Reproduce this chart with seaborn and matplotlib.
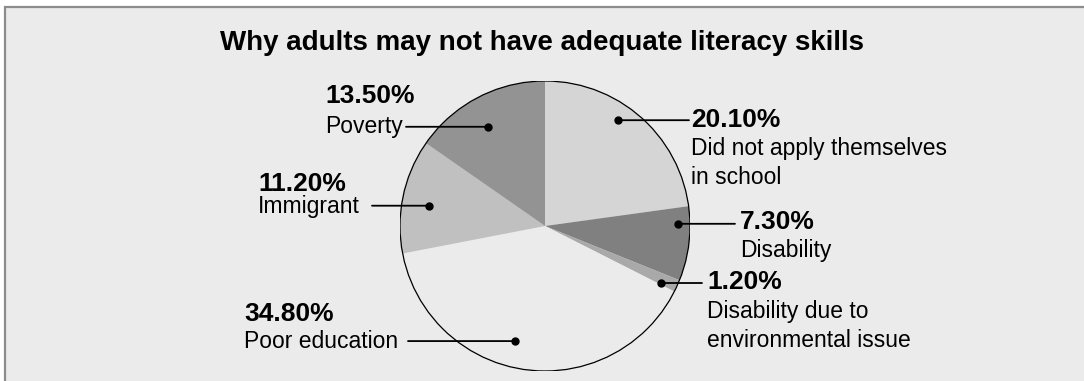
import numpy as np
import matplotlib
matplotlib.use("Agg")
import matplotlib.pyplot as plt
from matplotlib.patches import Rectangle, Circle
import seaborn as sns

# ---- data ----
categories = ["Did not apply themselves\nin school", "Disability",
              "Disability due to\nenvironmental issue", "Poor education",
              "Immigrant", "Poverty"]
values = [20.10, 7.30, 1.20, 34.80, 11.20, 13.50]
pct_labels = ["20.10%", "7.30%", "1.20%", "34.80%", "11.20%", "13.50%"]
title = "Why adults may not have adequate literacy skills"

# ---- style ----
colors = ["#d5d5d5", "#808080", "#a9a9a9", "#ebebeb", "#c0c0c0", "#939393"]
BG = "#ebebeb"

sns.set_theme(style="white")
plt.rcParams["font.family"] = ["Liberation Sans", "DejaVu Sans"]

W, H = 1084, 381
fig = plt.figure(figsize=(W / 100, H / 100), dpi=100, facecolor="white")

def fx(px):
    return px / W

def fy(py):
    return 1 - py / H

# background panel with frame (extends beyond right/bottom)
fig.patches.append(Rectangle((fx(5), fy(400)), fx(1100), (400 - 7) / H,
                             transform=fig.transFigure, facecolor=BG,
                             edgecolor="#8c8c8c", lw=1.6, zorder=-5))

# pie axes: center (545, 226), radius 145 px
cx, cy, R = 545, 226, 145
ax = fig.add_axes([fx(cx - R), fy(cy + R), 2 * R / W, 2 * R / H])
ax.set_zorder(2)
ax.set_facecolor("none")
wedges, _ = ax.pie(values, colors=colors, startangle=90, counterclock=False,
                   radius=1.0, wedgeprops=dict(linewidth=0))
ax.add_patch(Circle((0, 0), 1.0, fill=False, edgecolor="black", lw=0.9))
ax.set_xlim(-1, 1)
ax.set_ylim(-1, 1)
ax.set_aspect("equal")
ax.axis("off")

fig.text(fx(542), fy(43), title, ha="center", va="center",
         fontsize=20, fontweight="bold", color="black")

# label layout: (anchor radius, angle offset deg, pct text x, pct y, name x, name y, leader end x)
layout = [
    (0.885, 6.6, 691, 120, 691, 163, 689),
    (0.917, 8.0, 740, 222, 740, 251, 735),
    (0.89, -1.8, 707, 282, 707, 326, 702),
    (0.82, -6.6, 244, 314, 244, 341, 408),
    (0.81, 2.0, 258, 184, 258, 206, 372),
    (0.79, 2.4, 325, 96, 325, 127, 406),
]

for w, pct, name, (r, dth, px, py, nx, ny, lx) in zip(wedges, pct_labels, categories, layout):
    mid = np.deg2rad((w.theta1 + w.theta2) / 2 + dth)
    ax_x, ax_y = r * np.cos(mid), r * np.sin(mid)
    disp = ax.transData.transform((ax_x, ax_y))
    fig.text(fx(px), fy(py), pct, ha="left", va="center", fontsize=19,
             fontweight="bold", color="black")
    fig.text(fx(nx), fy(ny), name, ha="left", va="center", fontsize=16.5,
             color="black", linespacing=1.3)
    ly = H - disp[1]
    ax.annotate("", xy=(ax_x, ax_y), xycoords="data",
                xytext=(fx(lx), 1 - ly / H), textcoords="figure fraction",
                arrowprops=dict(arrowstyle="-", color="black", lw=1.3,
                                shrinkA=0, shrinkB=0), annotation_clip=False)
    ax.plot([ax_x], [ax_y], "o", color="black", markersize=5, clip_on=False)

fig.savefig("out.png", dpi=100, facecolor="white")
